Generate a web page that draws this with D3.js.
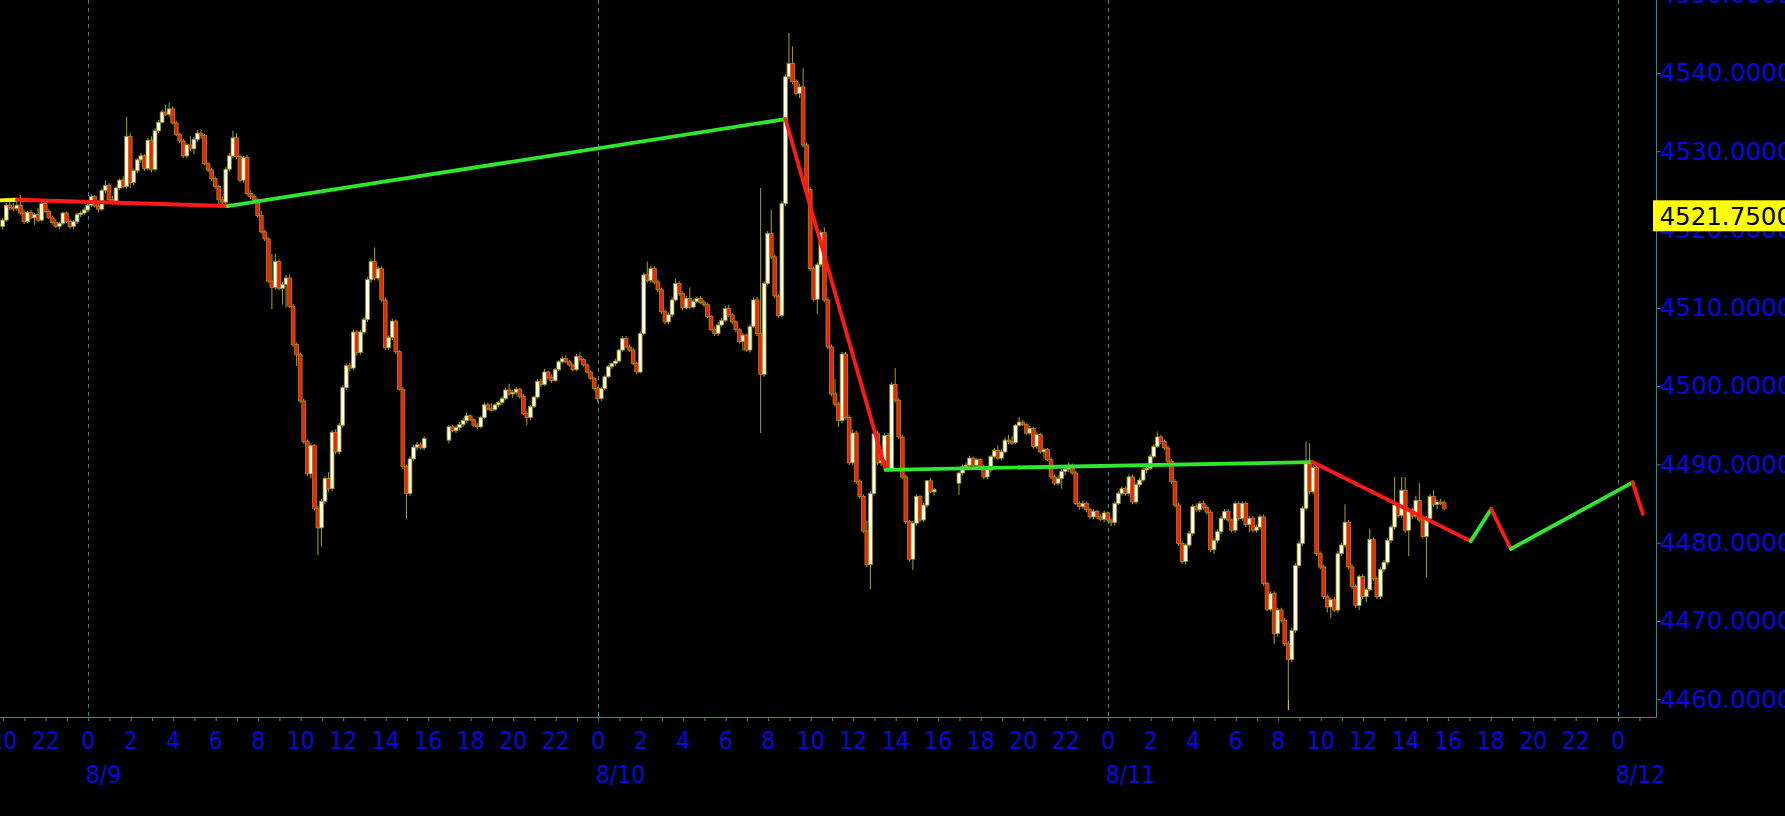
<!DOCTYPE html>
<html><head><meta charset="utf-8">
<script src="https://cdn.jsdelivr.net/npm/d3@7"></script>
<style>
html,body{margin:0;padding:0;background:#000;overflow:hidden}
svg{display:block}
</style></head><body>
<svg id="chart" width="1785" height="816"></svg>
<script>
// ---------- DATA ----------
const sessionStarts = ["2021-08-08T20:00:00Z", "2021-08-09T17:00:00Z", "2021-08-10T17:00:00Z"];
const barMinutes = 10;
// [open, high, low, close]
const session1 = [
[4520.4,4521.5,4520.0,4521.2],[4521.2,4523.4,4521.0,4523.1],[4523.1,4523.6,4522.5,4522.8],[4522.8,4523.4,4522.3,4522.7],[4522.7,4523.5,4522.4,4523.1],[4523.1,4524.4,4521.9,4522.1],
[4522.1,4522.6,4520.7,4521.0],[4521.0,4522.4,4520.8,4522.2],[4522.2,4522.5,4521.3,4521.5],[4521.5,4522.1,4520.6,4521.9],[4521.9,4522.7,4521.0,4521.2],[4521.2,4523.5,4521.0,4523.3],
[4523.3,4523.5,4522.1,4522.3],[4522.3,4522.6,4521.3,4521.5],[4521.5,4521.8,4520.6,4520.9],[4520.9,4521.3,4520.2,4520.4],[4520.4,4521.0,4520.0,4520.8],[4520.8,4522.3,4520.5,4522.1],
[4522.1,4522.3,4520.8,4521.0],[4521.0,4521.3,4520.1,4520.4],[4520.4,4521.2,4520.1,4521.0],[4521.0,4522.1,4520.7,4521.9],[4521.9,4522.4,4521.6,4522.1],[4522.1,4522.8,4521.8,4522.5],
[4522.5,4523.3,4522.2,4523.1],[4523.1,4524.5,4522.9,4524.2],[4524.2,4524.4,4522.8,4523.0],[4523.0,4523.6,4522.2,4522.6],[4522.6,4525.2,4522.4,4525.0],[4525.0,4526.3,4524.6,4525.6],
[4525.6,4525.9,4523.5,4523.8],[4523.8,4524.3,4523.1,4523.6],[4523.6,4525.5,4523.4,4525.3],[4525.3,4526.5,4525.0,4526.3],[4526.3,4526.8,4525.3,4525.5],[4525.5,4534.4,4525.2,4531.9],
[4531.9,4532.3,4525.3,4526.0],[4526.0,4527.8,4525.6,4527.5],[4527.5,4529.1,4527.2,4528.9],[4528.9,4529.8,4528.5,4529.4],[4529.4,4529.6,4527.5,4527.8],[4527.8,4531.7,4527.5,4531.4],
[4531.4,4531.9,4527.3,4527.7],[4527.7,4532.9,4527.4,4532.6],[4532.6,4534.0,4532.3,4533.7],[4533.7,4535.3,4533.5,4535.0],[4535.0,4535.9,4534.5,4534.7],[4534.7,4536.2,4534.4,4535.4],
[4535.4,4535.7,4533.4,4533.6],[4533.6,4533.9,4531.9,4532.1],[4532.1,4532.4,4531.0,4531.3],[4531.3,4531.6,4529.1,4529.4],[4529.4,4531.0,4529.1,4530.8],[4530.8,4531.9,4530.0,4530.3],
[4530.3,4531.8,4529.6,4531.5],[4531.5,4532.7,4531.2,4532.3],[4532.3,4532.8,4531.6,4532.0],[4532.0,4532.2,4528.2,4528.4],[4528.4,4528.6,4527.3,4527.6],[4527.6,4527.9,4526.2,4526.5],
[4526.5,4526.8,4525.2,4525.5],[4525.5,4525.7,4523.2,4523.8],[4523.8,4524.2,4523.1,4523.5],[4523.5,4528.0,4523.2,4527.7],[4527.7,4529.8,4527.4,4529.4],[4529.4,4532.6,4529.1,4531.7],
[4531.7,4532.3,4529.0,4529.3],[4529.3,4529.6,4526.0,4526.3],[4526.3,4529.4,4526.0,4529.2],[4529.2,4529.5,4524.3,4524.6],[4524.6,4525.0,4523.9,4524.2],[4524.2,4524.5,4523.5,4523.8],
[4523.8,4524.0,4521.5,4521.8],[4521.8,4522.4,4519.5,4519.7],[4519.7,4520.0,4518.5,4518.8],[4518.8,4519.0,4513.2,4513.4],[4513.4,4516.9,4509.8,4512.6],[4512.6,4516.9,4512.3,4515.9],
[4515.9,4516.2,4512.2,4512.5],[4512.5,4513.3,4510.4,4513.0],[4513.0,4514.2,4510.0,4513.8],[4513.8,4514.3,4510.0,4510.2],[4510.2,4510.5,4505.0,4505.3],[4505.3,4505.6,4502.6,4504.0],
[4504.0,4504.3,4497.8,4498.1],[4498.1,4498.4,4492.6,4492.9],[4492.9,4493.2,4488.5,4488.8],[4488.8,4492.7,4488.2,4492.4],[4492.4,4492.6,4484.1,4484.4],[4484.4,4484.7,4478.4,4481.9],
[4481.9,4485.6,4479.5,4485.3],[4485.3,4488.5,4484.9,4488.2],[4488.2,4489.0,4486.5,4486.9],[4486.9,4494.4,4486.6,4494.1],[4494.1,4494.5,4491.3,4491.6],[4491.6,4495.3,4491.3,4495.0],
[4495.0,4500.1,4494.7,4499.8],[4499.8,4502.9,4499.5,4502.6],[4502.6,4503.0,4501.9,4502.3],[4502.3,4507.2,4502.0,4506.9],[4506.9,4507.1,4503.9,4504.3],[4504.3,4507.2,4504.0,4506.9],
[4506.9,4508.8,4506.6,4508.5],[4508.5,4513.9,4508.2,4513.6],[4513.6,4516.2,4513.2,4515.9],[4515.9,4517.7,4513.5,4513.8],[4513.8,4515.3,4513.5,4515.0],[4515.0,4515.3,4510.7,4511.0],
[4511.0,4511.3,4504.6,4504.9],[4504.9,4506.5,4504.6,4506.2],[4506.2,4508.6,4505.9,4508.3],[4508.3,4508.5,4504.1,4504.4],[4504.4,4504.6,4499.4,4499.6],[4499.6,4499.9,4489.4,4489.7],
[4489.7,4490.0,4483.1,4486.3],[4486.3,4491.0,4486.0,4490.7],[4490.7,4492.5,4490.4,4492.2],[4492.2,4492.9,4491.8,4492.5],[4492.5,4492.8,4491.9,4492.1],[4492.1,4493.6,4491.8,4493.3]
];
const session2 = [
[4493.1,4495.0,4492.7,4494.8],[4494.8,4495.1,4494.1,4494.3],[4494.3,4495.0,4494.0,4494.7],[4494.7,4495.4,4494.4,4495.1],[4495.1,4495.9,4494.8,4495.6],[4495.6,4496.6,4495.3,4496.2],
[4496.2,4496.4,4495.5,4495.7],[4495.7,4495.9,4494.8,4495.0],[4495.0,4495.3,4494.5,4494.8],[4494.8,4496.2,4494.6,4496.0],[4496.0,4497.9,4495.8,4497.6],[4497.6,4497.9,4496.9,4497.1],
[4497.1,4497.8,4496.8,4497.0],[4497.0,4497.8,4496.8,4497.6],[4497.6,4498.1,4497.3,4497.9],[4497.9,4498.7,4497.6,4498.4],[4498.4,4499.8,4498.2,4499.5],[4499.5,4500.3,4498.8,4499.0],
[4499.0,4499.5,4498.5,4499.2],[4499.2,4499.9,4498.9,4499.6],[4499.6,4499.8,4498.4,4498.7],[4498.7,4499.0,4496.3,4496.5],[4496.5,4496.8,4495.0,4496.0],[4496.0,4497.6,4495.7,4497.4],
[4497.4,4498.8,4497.2,4498.6],[4498.6,4500.9,4498.4,4500.6],[4500.6,4500.9,4499.9,4500.2],[4500.2,4502.2,4500.0,4501.8],[4501.8,4502.0,4500.8,4501.1],[4501.1,4501.5,4500.4,4500.7],
[4500.7,4502.3,4500.5,4502.1],[4502.1,4503.3,4501.9,4503.1],[4503.1,4503.8,4502.9,4503.5],[4503.5,4504.0,4502.9,4503.1],[4503.1,4503.3,4502.5,4502.7],[4502.7,4502.9,4501.9,4502.1],
[4502.1,4504.1,4501.9,4503.8],[4503.8,4504.4,4503.1,4503.4],[4503.4,4503.6,4502.5,4502.7],[4502.7,4502.9,4501.6,4501.8],[4501.8,4502.0,4500.8,4501.0],[4501.0,4501.2,4499.4,4499.7],
[4499.7,4499.9,4497.9,4498.4],[4498.4,4499.9,4498.1,4499.7],[4499.7,4501.4,4499.5,4501.2],[4501.2,4502.7,4501.0,4502.5],[4502.5,4503.0,4502.2,4502.9],[4502.9,4503.5,4502.6,4503.2],
[4503.2,4504.8,4503.0,4504.6],[4504.6,4506.4,4504.4,4506.1],[4506.1,4506.4,4504.8,4505.0],[4505.0,4505.3,4504.4,4504.6],[4504.6,4504.9,4502.7,4502.9],[4502.9,4503.1,4501.5,4501.8],
[4501.8,4507.0,4501.6,4506.7],[4506.7,4514.5,4506.5,4514.2],[4514.2,4515.9,4513.2,4513.5],[4513.5,4515.4,4513.2,4515.0],[4515.0,4515.3,4513.0,4513.3],[4513.3,4513.6,4512.0,4512.3],
[4512.3,4512.6,4509.2,4509.5],[4509.5,4509.8,4507.9,4508.2],[4508.2,4509.4,4507.9,4509.1],[4509.1,4511.3,4508.8,4511.0],[4511.0,4513.7,4510.8,4513.1],[4513.1,4513.4,4511.5,4511.8],
[4511.8,4512.1,4509.7,4510.0],[4510.0,4511.5,4509.8,4511.2],[4511.2,4512.6,4509.8,4510.1],[4510.1,4511.1,4509.9,4510.8],[4510.8,4511.4,4510.6,4511.2],[4511.2,4511.5,4510.5,4510.7],
[4510.7,4511.0,4510.1,4510.4],[4510.4,4510.6,4508.7,4508.9],[4508.9,4509.1,4507.0,4507.2],[4507.2,4507.6,4506.4,4506.7],[4506.7,4508.2,4506.4,4507.8],[4507.8,4508.7,4507.6,4508.4],
[4508.4,4510.2,4508.2,4509.9],[4509.9,4510.4,4508.8,4509.1],[4509.1,4509.3,4507.9,4508.2],[4508.2,4508.4,4506.9,4507.2],[4507.2,4507.4,4505.4,4505.7],[4505.7,4506.8,4504.5,4506.5],
[4506.5,4506.7,4504.4,4504.6],[4504.6,4507.9,4504.3,4507.6],[4507.6,4511.3,4507.4,4511.0],[4511.0,4511.4,4506.4,4506.7],[4506.7,4525.3,4494.0,4501.5],[4501.5,4513.4,4501.2,4513.1],
[4513.1,4519.8,4512.9,4519.5],[4519.5,4522.5,4516.2,4516.5],[4516.5,4516.8,4511.2,4511.5],[4511.5,4511.8,4508.7,4509.0],[4509.0,4523.6,4508.8,4523.3],[4523.3,4539.8,4523.0,4539.5],
[4539.5,4545.1,4539.2,4541.2],[4541.2,4543.4,4538.6,4538.9],[4538.9,4539.2,4537.1,4537.4],[4537.4,4538.6,4536.8,4538.2],[4538.2,4540.6,4530.5,4530.8],[4530.8,4531.1,4524.8,4525.1],
[4525.1,4525.4,4514.7,4515.0],[4515.0,4515.3,4510.8,4511.1],[4511.1,4515.8,4509.2,4515.5],[4515.5,4519.9,4515.2,4519.6],[4519.6,4520.3,4510.7,4511.0],[4511.0,4511.3,4504.7,4505.0],
[4505.0,4505.3,4498.7,4499.0],[4499.0,4500.9,4497.4,4497.7],[4497.7,4498.0,4494.8,4495.6],[4495.6,4504.4,4495.3,4504.1],[4504.1,4504.4,4495.7,4496.0],[4496.0,4496.3,4489.9,4490.2],
[4490.2,4494.5,4489.9,4494.0],[4494.0,4494.3,4487.5,4487.8],[4487.8,4488.1,4485.6,4485.9],[4485.9,4486.2,4481.2,4481.5],[4481.5,4482.8,4476.9,4477.2],[4477.2,4486.6,4474.1,4486.3],
[4486.3,4494.2,4486.0,4493.9],[4493.9,4494.3,4489.9,4490.2],[4490.2,4491.0,4489.8,4490.5],[4490.5,4494.0,4490.2,4493.7],[4493.7,4494.0,4489.0,4489.3],[4489.3,4500.5,4489.0,4500.2],
[4500.2,4502.3,4497.9,4498.2],[4498.2,4498.5,4493.2,4493.5],[4493.5,4493.8,4488.1,4488.4],[4488.4,4488.7,4482.4,4482.7],[4482.7,4482.9,4477.6,4477.9],[4477.9,4482.8,4476.5,4482.5],
[4482.5,4486.2,4482.2,4485.9],[4485.9,4486.1,4482.6,4482.9],[4482.9,4485.1,4482.6,4484.8],[4484.8,4488.0,4484.5,4487.9],[4487.9,4488.3,4486.3,4486.5],[4486.5,4487.0,4486.0,4486.8]
];
const session3 = [
[4487.6,4489.1,4486.1,4488.9],[4488.9,4490.0,4488.6,4489.7],[4489.7,4490.2,4489.3,4489.9],[4489.9,4491.1,4489.6,4490.8],[4490.8,4491.0,4489.6,4489.9],[4489.9,4490.8,4489.6,4490.6],
[4490.6,4490.8,4489.4,4489.7],[4489.7,4490.0,4488.1,4488.4],[4488.4,4489.6,4488.1,4489.3],[4489.3,4491.2,4489.0,4491.0],[4491.0,4492.1,4490.8,4491.8],[4491.8,4492.4,4490.6,4490.8],
[4490.8,4491.9,4490.5,4491.6],[4491.6,4493.4,4491.4,4493.1],[4493.1,4493.8,4492.6,4492.9],[4492.9,4493.6,4492.5,4492.8],[4492.8,4495.2,4492.6,4495.0],[4495.0,4496.1,4494.8,4495.4],
[4495.4,4495.7,4494.9,4495.1],[4495.1,4495.3,4493.8,4494.0],[4494.0,4494.9,4493.8,4494.6],[4494.6,4494.8,4492.0,4492.3],[4492.3,4494.1,4492.0,4493.8],[4493.8,4494.0,4491.4,4491.6],
[4491.6,4492.1,4490.8,4491.9],[4491.9,4492.1,4490.4,4490.6],[4490.6,4490.9,4488.1,4488.4],[4488.4,4488.7,4487.3,4487.6],[4487.6,4488.6,4487.3,4488.2],[4488.2,4489.4,4486.9,4489.1],
[4489.1,4489.8,4488.6,4489.4],[4489.4,4490.2,4489.0,4489.9],[4489.9,4490.1,4488.7,4488.9],[4488.9,4489.2,4484.8,4485.0],[4485.0,4485.3,4484.2,4484.6],[4484.6,4485.4,4484.3,4485.0],
[4485.0,4485.2,4483.9,4484.2],[4484.2,4484.5,4483.0,4483.3],[4483.3,4484.3,4483.0,4484.0],[4484.0,4484.2,4483.0,4483.3],[4483.3,4483.6,4482.8,4483.0],[4483.0,4484.1,4482.6,4483.8],
[4483.8,4484.0,4482.6,4482.9],[4482.9,4483.1,4482.1,4482.6],[4482.6,4485.3,4482.2,4485.0],[4485.0,4486.6,4484.8,4486.3],[4486.3,4487.2,4486.0,4486.9],[4486.9,4487.2,4486.0,4486.3],
[4486.3,4488.7,4486.0,4488.4],[4488.4,4488.7,4484.9,4485.2],[4485.2,4487.7,4484.9,4487.4],[4487.4,4488.3,4487.1,4488.0],[4488.0,4489.6,4487.8,4489.3],[4489.3,4489.8,4488.9,4489.5],
[4489.5,4491.3,4489.3,4491.0],[4491.0,4492.6,4490.8,4492.3],[4492.3,4494.2,4492.1,4493.5],[4493.5,4493.8,4492.6,4492.9],[4492.9,4493.2,4491.8,4492.1],[4492.1,4492.4,4490.1,4490.4],
[4490.4,4490.7,4487.5,4487.8],[4487.8,4488.1,4484.5,4484.8],[4484.8,4485.1,4479.6,4479.9],[4479.9,4480.2,4477.3,4477.6],[4477.6,4479.9,4477.2,4479.7],[4479.7,4481.5,4479.4,4481.2],
[4481.2,4484.9,4480.9,4484.6],[4484.6,4485.0,4483.9,4484.2],[4484.2,4485.3,4483.9,4485.0],[4485.0,4485.4,4484.2,4484.5],[4484.5,4484.8,4483.6,4483.9],[4483.9,4484.2,4478.8,4479.1],
[4479.1,4480.6,4478.6,4480.3],[4480.3,4481.7,4480.0,4481.4],[4481.4,4483.4,4481.1,4483.1],[4483.1,4484.3,4482.9,4484.0],[4484.0,4484.3,4482.6,4482.9],[4482.9,4483.1,4481.3,4481.6],
[4481.6,4485.3,4481.3,4485.0],[4485.0,4485.3,4482.8,4483.1],[4483.1,4485.3,4482.8,4485.0],[4485.0,4485.3,4482.0,4482.3],[4482.3,4483.4,4481.3,4483.1],[4483.1,4483.4,4481.3,4481.6],
[4481.6,4482.3,4481.3,4482.0],[4482.0,4483.6,4481.7,4483.3],[4483.3,4483.6,4474.5,4474.8],[4474.8,4475.0,4471.2,4471.5],[4471.5,4473.8,4471.2,4473.5],[4473.5,4473.8,4467.1,4468.4],
[4468.4,4471.7,4468.0,4471.4],[4471.4,4471.7,4469.8,4470.1],[4470.1,4470.4,4466.8,4467.1],[4467.1,4467.4,4458.6,4465.1],[4465.1,4469.1,4464.8,4468.8],[4468.8,4477.4,4468.5,4477.1],
[4477.1,4480.2,4476.8,4479.9],[4479.9,4484.7,4479.6,4484.4],[4484.4,4492.9,4484.1,4490.1],[4490.1,4492.7,4486.2,4486.5],[4486.5,4490.0,4486.2,4489.6],[4489.6,4489.9,4478.3,4478.6],
[4478.6,4478.9,4476.6,4476.9],[4476.9,4477.2,4472.8,4473.1],[4473.1,4473.4,4471.1,4471.8],[4471.8,4473.0,4470.4,4472.7],[4472.7,4473.1,4471.1,4471.4],[4471.4,4478.9,4471.1,4478.6],
[4478.6,4480.0,4478.3,4479.7],[4479.7,4484.9,4479.4,4482.6],[4482.6,4482.9,4476.6,4476.9],[4476.9,4477.2,4474.1,4474.4],[4474.4,4474.7,4471.7,4472.0],[4472.0,4475.9,4471.4,4475.7],
[4475.7,4476.0,4472.8,4473.1],[4473.1,4474.2,4472.4,4474.0],[4474.0,4481.8,4473.8,4480.4],[4480.4,4480.7,4475.1,4475.4],[4475.4,4475.7,4472.8,4473.1],[4473.1,4476.9,4472.8,4476.6],
[4476.6,4477.8,4476.3,4477.5],[4477.5,4480.6,4477.2,4480.3],[4480.3,4482.3,4480.0,4482.0],[4482.0,4488.4,4481.7,4484.8],[4484.8,4485.1,4483.2,4483.5],[4483.5,4488.4,4483.2,4486.7],
[4486.7,4488.4,4481.3,4481.6],[4481.6,4484.5,4478.3,4484.2],[4484.2,4484.5,4483.0,4483.4],[4483.4,4486.0,4483.1,4485.4],[4485.4,4487.6,4482.6,4482.9],[4482.9,4483.2,4480.5,4480.8],
[4480.8,4483.4,4475.6,4483.1],[4483.1,4486.2,4482.8,4485.9],[4485.9,4486.7,4484.6,4484.9],[4484.9,4485.5,4484.3,4485.2],[4485.2,4485.6,4484.8,4485.1],[4485.1,4485.4,4484.1,4484.4]
];
// zigzag indicator (including projection)
const zigzagTimes = ["2021-08-08T19:45Z","2021-08-08T20:40Z","2021-08-09T06:35Z","2021-08-10T08:50Z","2021-08-10T13:33Z","2021-08-11T09:38Z","2021-08-11T17:05Z","2021-08-11T18:03Z","2021-08-11T18:58Z","2021-08-12T00:42Z","2021-08-12T01:11Z"];
const zigzagValues = [4523.7, 4523.8, 4523.0, 4534.1, 4489.3, 4490.3, 4480.2, 4484.3, 4479.2, 4487.7, 4483.7];
const zigzagSegmentColors = ["#ffff00","#ff1a1a","#2ee82e","#ff1a1a","#2ee82e","#ff1a1a","#2ee82e","#ff1a1a","#2ee82e","#ff1a1a"];
const yTickValues = [4460, 4470, 4480, 4490, 4500, 4510, 4520, 4530, 4540, 4550];
const dayDates = ["2021-08-09T00:00Z", "2021-08-10T00:00Z", "2021-08-11T00:00Z", "2021-08-12T00:00Z"];
const dayLabels = ["8/9", "8/10", "8/11", "8/12"];
const axisStart = "2021-08-08T20:00Z", axisEnd = "2021-08-12T01:00Z";
const lastPrice = 4521.75;
const markerTime = "2021-08-11T08:30Z";

// ---------- LAYOUT ----------
const W = 1785, H = 816, plotRight = 1656, plotBottom = 717;
const svg = d3.select("#chart");
const x = d3.scaleUtc()
  .domain([new Date("2021-08-09T00:00Z"), new Date("2021-08-12T00:00Z")])
  .range([87.7, 1617.7]);
const y = d3.scaleLinear().domain([4460, 4540]).range([699.3, 72.9]);

svg.append("rect").attr("width", W).attr("height", H).attr("fill", "#000");
svg.append("defs").append("clipPath").attr("id", "plotclip")
  .append("rect").attr("x", 0).attr("y", 0).attr("width", plotRight).attr("height", plotBottom);
const plot = svg.append("g").attr("clip-path", "url(#plotclip)");

// day separators
plot.selectAll("line.day").data(dayDates).join("line").attr("class", "day")
  .attr("x1", d => Math.round(x(new Date(d))) + 0.5).attr("x2", d => Math.round(x(new Date(d))) + 0.5)
  .attr("y1", 0).attr("y2", plotBottom)
  .attr("stroke", "#2c8a94").attr("stroke-width", 1).attr("stroke-dasharray", "4,4");

// candles
const candles = [];
[session1, session2, session3].forEach((s, k) => {
  const t0 = new Date(sessionStarts[k]).getTime();
  s.forEach((d, i) => candles.push({ t: new Date(t0 + i * barMinutes * 60000), o: d[0], h: d[1], l: d[2], c: d[3] }));
});
const olive = "#9a9222";
plot.append("g").selectAll("line").data(candles).join("line")
  .attr("x1", d => x(d.t)).attr("x2", d => x(d.t))
  .attr("y1", d => y(d.h)).attr("y2", d => y(d.l))
  .attr("stroke", olive).attr("stroke-width", 1.1);
plot.append("g").selectAll("rect").data(candles).join("rect")
  .attr("x", d => x(d.t) - 1.9).attr("width", 3.8)
  .attr("y", d => y(Math.max(d.o, d.c)))
  .attr("height", d => Math.max(1.5, Math.abs(y(d.o) - y(d.c))))
  .attr("fill", d => d.c >= d.o ? "#ffffee" : "#f81e00")
  .attr("stroke", olive).attr("stroke-width", 0.8);

// zigzag
const zz = zigzagTimes.map((t, i) => ({ t: new Date(t), v: zigzagValues[i] }));
plot.append("g").selectAll("line").data(zz.slice(1)).join("line")
  .attr("x1", (d, i) => x(zz[i].t)).attr("y1", (d, i) => y(zz[i].v))
  .attr("x2", d => x(d.t)).attr("y2", d => y(d.v))
  .attr("stroke", (d, i) => zigzagSegmentColors[i]).attr("stroke-width", 3.8).attr("stroke-linecap", "round");

// axes lines
const axisColor = "#2e8e8e";
svg.append("line").attr("x1", 0).attr("x2", plotRight + 0.5).attr("y1", plotBottom + 0.5).attr("y2", plotBottom + 0.5)
  .attr("stroke", axisColor);
svg.append("line").attr("x1", plotRight + 0.5).attr("x2", plotRight + 0.5).attr("y1", 0).attr("y2", plotBottom + 0.5)
  .attr("stroke", axisColor);

// x axis
const blue = "#0808e0";
const condensed = "'DejaVu Sans Condensed','Liberation Sans Narrow',sans-serif";
const hourTicks = d3.utcHour.every(1).range(new Date(axisStart), new Date(new Date(axisEnd).getTime() + 1));
const twoHourTicks = hourTicks.filter(d => d.getUTCHours() % 2 === 0);
const xMinor = svg.append("g").attr("transform", `translate(0.5,${plotBottom})`)
  .call(d3.axisBottom(x).tickValues(hourTicks).tickSize(4).tickFormat(""));
xMinor.select(".domain").remove();
xMinor.selectAll("line").attr("stroke", axisColor);
const xAxis = svg.append("g").attr("transform", `translate(0,${plotBottom})`)
  .call(d3.axisBottom(x).tickValues(twoHourTicks).tickSize(0).tickPadding(15)
    .tickFormat(d => String(d.getUTCHours())));
xAxis.select(".domain").remove();
xAxis.selectAll("text").attr("fill", blue).attr("font-family", condensed).attr("font-size", 24.5);
svg.append("g").selectAll("text").data(dayDates).join("text")
  .attr("x", d => x(new Date(d)) - 2).attr("y", 783)
  .attr("fill", blue).attr("font-size", 24.5).attr("font-family", condensed)
  .text((d, i) => dayLabels[i]);

// y axis
const yAxis = svg.append("g").attr("transform", `translate(${plotRight + 0.5},0)`)
  .call(d3.axisRight(y).tickValues(yTickValues).tickSize(4).tickPadding(0).tickFormat(d3.format(".4f")));
yAxis.select(".domain").remove();
yAxis.selectAll("line").attr("stroke", axisColor);
yAxis.selectAll("text").attr("fill", blue).attr("font-family", "'DejaVu Sans',Verdana,sans-serif")
  .attr("font-size", 24.5).attr("x", 3.5);

// last price tag
const yl = y(lastPrice);
svg.append("rect").attr("x", plotRight - 3).attr("y", yl - 15.5).attr("width", W - plotRight + 3).attr("height", 31)
  .attr("fill", "#ffff00");
svg.append("text").attr("x", plotRight + 3.5).attr("y", yl).attr("dy", "0.36em")
  .attr("font-family", "'DejaVu Sans',Verdana,sans-serif").attr("font-size", 24.5).attr("fill", "#000")
  .text(d3.format(".4f")(lastPrice));

// small yellow marker on time axis
svg.append("line").attr("x1", Math.round(x(new Date(markerTime))) + 0.5).attr("x2", Math.round(x(new Date(markerTime))) + 0.5)
  .attr("y1", plotBottom - 17).attr("y2", plotBottom - 7).attr("stroke", "#c8c400");
</script>
</body></html>
